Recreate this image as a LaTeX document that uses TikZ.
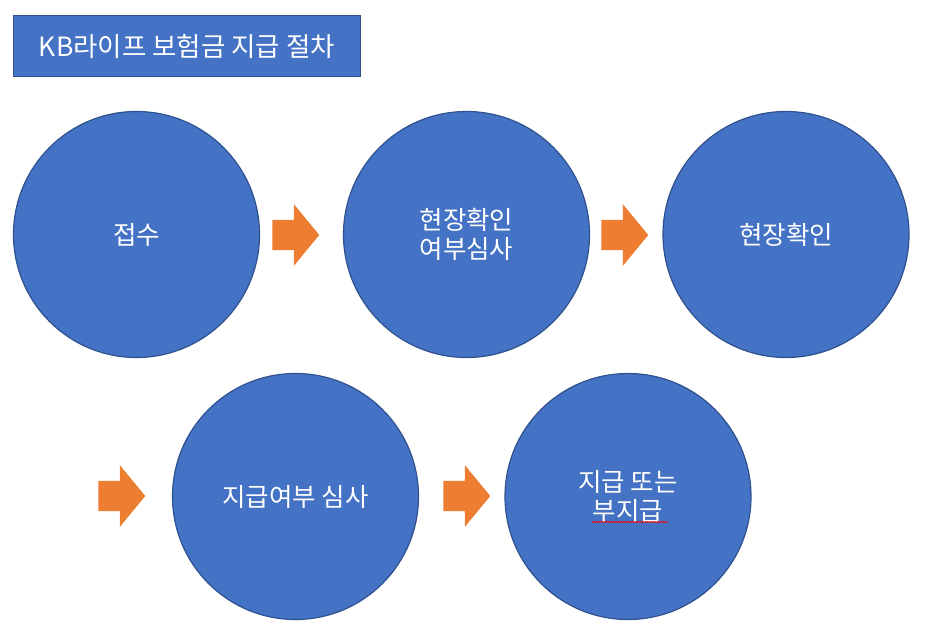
\documentclass[tikz,border=0pt]{standalone}
\usepackage{fontspec}
\setmainfont{Noto Sans CJK KR}
\usetikzlibrary{positioning,shapes.arrows,decorations.pathmorphing}

\definecolor{stageblue}{HTML}{4472C4}
\definecolor{stageline}{HTML}{2F528F}
\definecolor{floworange}{HTML}{ED7D31}

\tikzset{
  stage/.style={circle, fill=stageblue, draw=stageline, line width=1.2pt,
                minimum size=246pt, inner sep=0pt, text=white, align=center,
                font=\fontsize{25.5}{29}\selectfont},
  flow/.style={single arrow, fill=floworange, draw=none,
               inner xsep=0pt, inner ysep=15pt, text height=0pt, text depth=0pt,
               minimum height=47pt,
               single arrow head extend=15.5pt, single arrow tip angle=101},
  titlebox/.style={rectangle, fill=stageblue, draw=stageline, line width=1.6pt,
                   minimum width=347pt, minimum height=61pt, text=white,
                   font=\fontsize{26.5}{30}\selectfont}
}

\begin{document}
\begin{tikzpicture}[x=1pt,y=-1pt]
                \useasboundingbox (0,0) rectangle (936,629);

                \node[titlebox] (title) at (187,46) {KB라이프 보험금 지급 절차};

                % first row
                \node[stage] (receive) at (136.5,234.5) {접수};
                \node[stage] (review)  at (466.5,234.5) {현장확인\\여부심사};
                \node[stage] (visit)   at (786,234.5)   {현장확인};

                % second row
                \node[stage] (judge)   at (295.5,496.5) {지급여부 심사};
                \node[stage] (pay)     at (628,496.5)   {지급 또는\\부지급};

                \node[flow] (arr1) at (289.5,235) {};
                \node[flow] (arr2) at (618.5,235) {};
                \node[flow] (arr3) at (115.5,496) {};
                \node[flow] (arr4) at (460.5,496) {};

                % spelling mark
                \draw[red, line width=0.6pt, decorate,
                      decoration={snake, amplitude=0.7pt, segment length=2.5pt}]
                      (592,522) -- (668,522);
            \end{tikzpicture}
\end{document}
